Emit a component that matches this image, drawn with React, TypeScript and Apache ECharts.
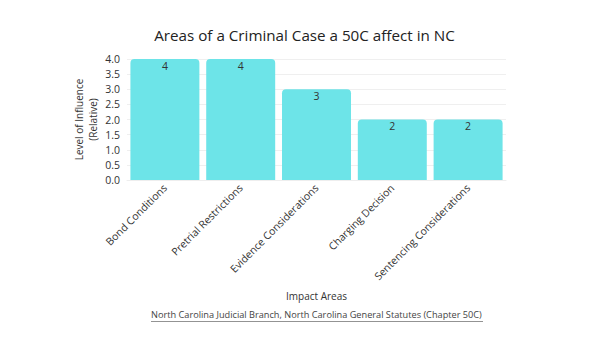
import React, { useEffect, useRef } from "react";
import * as echarts from "echarts";

const categories = [
  "Bond Conditions",
  "Pretrial Restrictions",
  "Evidence Considerations",
  "Charging Decision",
  "Sentencing Considerations",
];
const values = [4, 4, 3, 2, 2];
const yTicks = { min: 0, max: 4, interval: 0.5 };

const FONT = "Open Sans";

export default function App() {
  const ref = useRef<HTMLDivElement>(null);
  useEffect(() => {
    if (!ref.current) return;
    const chart = echarts.init(ref.current, null, { renderer: "svg" });
    chart.setOption({
      animation: false,
      backgroundColor: "#ffffff",
      title: {
        text: "Areas of a Criminal Case a 50C affect in NC",
        left: "center",
        top: 22,
        textStyle: { fontFamily: FONT, fontSize: 15.2, fontWeight: "normal", color: "#222" },
      },
      grid: { left: 127, right: 103, top: 59, bottom: 174, containLabel: false },
      xAxis: {
        type: "category",
        data: categories,
        name: "Impact Areas",
        nameLocation: "middle",
        nameGap: 111,
        nameMoveOverlap: false,
        nameTextStyle: { fontFamily: FONT, fontSize: 10, color: "#333" },
        axisLine: { show: true, lineStyle: { color: "#eeeeee" } },
        axisTick: { show: false },
        axisLabel: {
          rotate: 45,
          interval: 0,
          margin: 6,
          fontFamily: FONT,
          fontSize: 10.5,
          color: "#333",
        },
      },
      yAxis: {
        type: "value",
        min: yTicks.min,
        max: yTicks.max,
        interval: yTicks.interval,
        name: "Level of Influence\n(Relative)",
        nameLocation: "middle",
        nameGap: 27,
        nameMoveOverlap: false,
        nameRotate: 90,
        nameTextStyle: { fontFamily: FONT, fontSize: 10, color: "#333", lineHeight: 14 },
        axisLine: { show: false },
        axisTick: { show: false },
        axisLabel: {
          formatter: (v: number) => v.toFixed(1),
          fontFamily: FONT,
          fontSize: 10.5,
          color: "#333",
          margin: 7,
        },
        splitLine: { lineStyle: { color: "#efefef", width: 1 } },
      },
      series: [
        {
          type: "bar",
          data: values,
          barCategoryGap: "9%",
          itemStyle: { color: "#6de4e8", borderRadius: [4, 4, 0, 0] },
          label: {
            show: true,
            position: "insideTop",
            distance: 1,
            fontFamily: FONT,
            fontSize: 10.5,
            color: "#333",
          },
        },
      ],
      graphic: [
        {
          type: "text",
          left: 151,
          top: 310,
          style: {
            text: "North Carolina Judicial Branch, North Carolina General Statutes (Chapter 50C)",
            fontFamily: FONT,
            fontSize: 9.2,
            fill: "#444",
          },
        },
        {
          type: "line",
          shape: { x1: 151, y1: 321.5, x2: 483, y2: 321.5 },
          style: { stroke: "#777", lineWidth: 0.8 },
        },
      ],
    });
    return () => chart.dispose();
  }, []);
  return (
    <div
      ref={ref}
      style={{ position: "fixed", left: 0, top: 0, width: 609, height: 354 }}
    />
  );
}
